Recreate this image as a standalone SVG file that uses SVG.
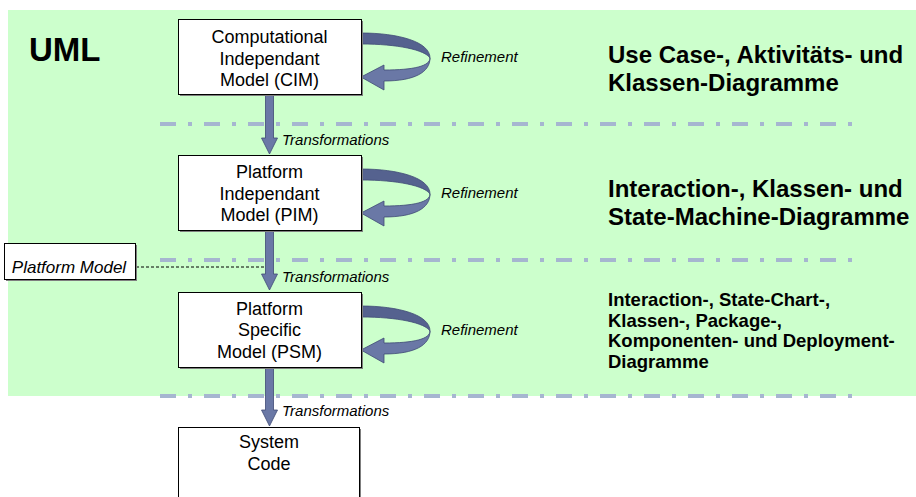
<svg xmlns="http://www.w3.org/2000/svg" xmlns:xlink="http://www.w3.org/1999/xlink" width="916" height="497" viewBox="0 0 916 497">
  <style>
    text { font-family: "Liberation Sans", Arial, sans-serif; fill: #000; }
    .box { fill: #fff; stroke: #000; stroke-width: 1; }
    .shadow { fill: #7f7f7f; }
    .node { font-size: 18px; text-anchor: middle; }
    .lbl { font-size: 15px; font-style: italic; }
    .head { font-size: 24px; font-weight: bold; }
    .small { font-size: 18.5px; font-weight: bold; }
    .sep { fill: none; stroke: #a6b6d0; stroke-width: 4; stroke-dasharray: 16 12 4 12; }
    .arrow { fill: #6a78a6; stroke: #3f4a75; stroke-width: 0.8; }
    .arrow-back { fill: #55628f; stroke: #3f4a75; stroke-width: 0.8; }
  </style>
  <defs>
    <!-- curled refinement arrow, drawn against the CIM box -->
    <g id="refine">
      <path class="arrow-back" d="M361,33 C399,33 430,42 430,58 C425,50 398,44 361,44 Z"/>
      <path class="arrow" d="M430,58 C430,66 414,70 384,70 L384,65 L361,77 L384,90 L384,81 C415,81 430,72 430,58 Z"/>
    </g>
  </defs>

  <!-- UML area -->
  <rect x="8" y="10" width="908" height="386" fill="#ccffcc"/>
  <text x="29" y="61" font-size="33" font-weight="bold">UML</text>

  <!-- level separators -->
  <g id="separators">
    <line class="sep" x1="160" y1="124" x2="852" y2="124"/>
    <line class="sep" x1="160" y1="260" x2="852" y2="260"/>
    <line class="sep" x1="160" y1="396" x2="852" y2="396"/>
  </g>

  <!-- connectors -->
  <g id="connectors">
    <line x1="136" y1="267" x2="265" y2="267" stroke="#000" stroke-width="1" stroke-dasharray="3 2"/>
    <path class="arrow" d="M265.5,94 L273.5,94 L273.5,138 L277.5,138 L269.5,154 L261.5,138 L265.5,138 Z"/>
    <path class="arrow" d="M265.5,230 L273.5,230 L273.5,274 L277.5,274 L269.5,290 L261.5,274 L265.5,274 Z"/>
    <path class="arrow" d="M265.5,367 L273.5,367 L273.5,410 L277.5,410 L269.5,426 L261.5,410 L265.5,410 Z"/>
    <use xlink:href="#refine"/>
    <use xlink:href="#refine" transform="translate(0,136)"/>
    <use xlink:href="#refine" transform="translate(0,273)"/>
    <text class="lbl" x="282" y="145">Transformations</text>
    <text class="lbl" x="282" y="282">Transformations</text>
    <text class="lbl" x="282" y="416">Transformations</text>
    <text class="lbl" x="441" y="62">Refinement</text>
    <text class="lbl" x="441" y="198">Refinement</text>
    <text class="lbl" x="441" y="335">Refinement</text>
  </g>

  <g id="cim">
    <rect class="shadow" x="180" y="21" width="183" height="75"/>
    <rect class="box" x="178.5" y="19.5" width="183" height="75"/>
    <text class="node" x="269.5" y="43">Computational</text>
    <text class="node" x="269.5" y="64.5">Independant</text>
    <text class="node" x="269.5" y="86">Model (CIM)</text>
  </g>

  <g id="pim">
    <rect class="shadow" x="180" y="157" width="183" height="75"/>
    <rect class="box" x="178.5" y="155.5" width="183" height="75"/>
    <text class="node" x="269.5" y="178">Platform</text>
    <text class="node" x="269.5" y="199.5">Independant</text>
    <text class="node" x="269.5" y="221">Model (PIM)</text>
  </g>

  <g id="psm">
    <rect class="shadow" x="180" y="294" width="183" height="75"/>
    <rect class="box" x="178.5" y="292.5" width="183" height="75"/>
    <text class="node" x="269.5" y="314.5">Platform</text>
    <text class="node" x="269.5" y="336">Specific</text>
    <text class="node" x="269.5" y="357.5">Model (PSM)</text>
  </g>

  <g id="code">
    <rect class="shadow" x="180" y="429" width="181" height="80"/>
    <rect class="box" x="178.5" y="427.5" width="181" height="80"/>
    <text class="node" x="269" y="448">System</text>
    <text class="node" x="269" y="470">Code</text>
  </g>

  <g id="platform-model">
    <rect class="shadow" x="6" y="245" width="131" height="36"/>
    <rect class="box" x="4.5" y="243.5" width="131" height="36"/>
    <text x="69" y="273" font-size="17" font-style="italic" text-anchor="middle">Platform Model</text>
  </g>

  <g id="diagrams">
    <text class="head" x="608" y="63">Use Case-, Aktivitäts- und</text>
    <text class="head" x="608" y="90.5">Klassen-Diagramme</text>
    <text class="head" x="608" y="197">Interaction-, Klassen- und</text>
    <text class="head" x="608" y="224.5">State-Machine-Diagramme</text>
    <text class="small" x="608" y="306">Interaction-, State-Chart-,</text>
    <text class="small" x="608" y="326.5">Klassen-, Package-,</text>
    <text class="small" x="608" y="347">Komponenten- und Deployment-</text>
    <text class="small" x="608" y="367.5">Diagramme</text>
  </g>
</svg>
